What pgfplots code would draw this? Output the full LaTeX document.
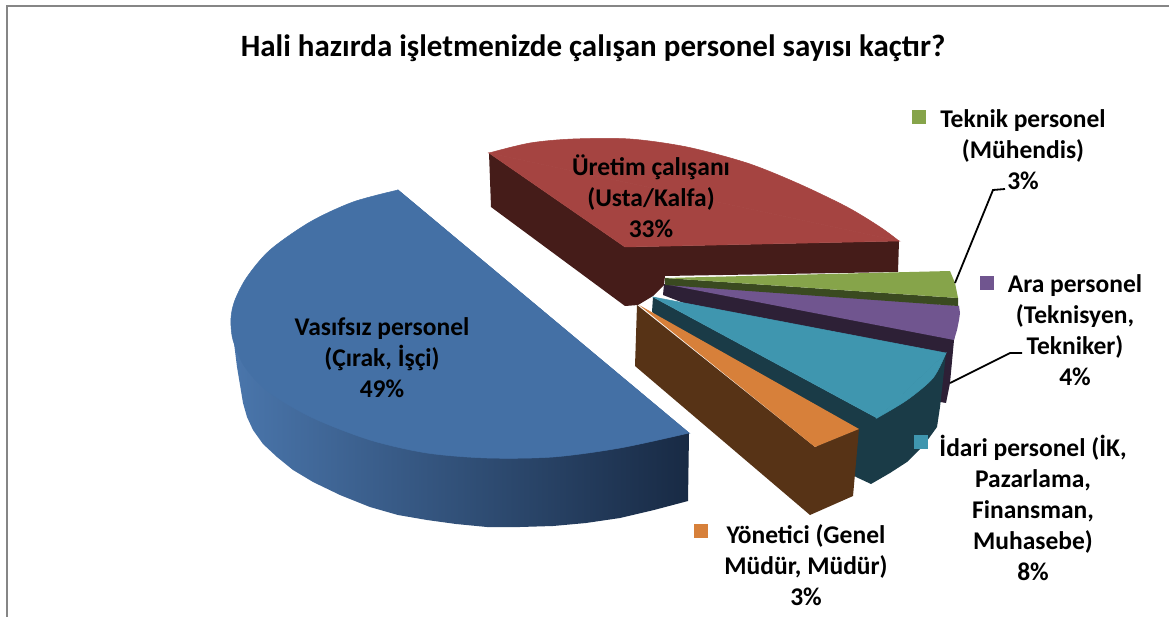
\documentclass[border=0pt]{standalone}
\usepackage{pgfplots}
\pgfplotsset{compat=1.18}
\usepackage{fontspec}
\setmainfont{Carlito}
\definecolor{cblue}{HTML}{4470A5}
\definecolor{cblueL}{HTML}{4A76AC}
\definecolor{cblueD}{HTML}{182A44}
\definecolor{cred}{HTML}{A54441}
\definecolor{credD}{HTML}{451C19}
\definecolor{cgreen}{HTML}{86A44A}
\definecolor{cgreenD}{HTML}{3A4A20}
\definecolor{cpurple}{HTML}{70558F}
\definecolor{cpurpleD}{HTML}{2D2036}
\definecolor{cteal}{HTML}{3F96AF}
\definecolor{ctealD}{HTML}{1A3B47}
\definecolor{corange}{HTML}{D7803A}
\definecolor{cbrown}{HTML}{573316}
\definecolor{cframe}{HTML}{868686}
\tikzset{lab/.style={font=\fontsize{25.5}{31}\selectfont\bfseries, align=center, text=black, inner sep=0pt}}
\begin{document}
\begin{tikzpicture}
\begin{axis}[
  scale only axis, width=1169pt, height=617pt,
  xmin=0, xmax=1169, ymin=0, ymax=617, y dir=reverse,
  hide axis, clip=true,
]
% page background fixes the picture's bounds
\addplot[fill=white, draw=white, no markers] coordinates {(0,0) (1169,0) (1169,617) (0,617)} --cycle;
% frame
\addplot[cframe, line width=2pt, no markers] coordinates {(7,617) (7,6) (1169,6)};
% blue side
\addplot[draw=none, left color=cblueL, right color=cblueD, no markers] coordinates {
 (231,318) (233,335) (237,367) (240,385) (243,403) (247,417) (253,430) (263,444) (277,457) (293,470) (313,482) (340,495) (370,507) (398,515) (427,520) (456,524) (487,527) (520,527) (553,526) (586,523) (620,518) (654,510) (688,501)
 (689,433) (480,400)} --cycle;
% blue top
\addplot[fill=cblue, draw=cblue, line width=0.5pt, no markers, smooth] coordinates {
 (398,190) (353,202) (310,222) (270,250) (247,277) (235,300) (231,318) (233,340) (245,367) (270,393) (313,418) (370,440) (427,453) (487,458) (553,457) (620,448) (689,433)} --cycle;
\addplot[fill=cblue, draw=cblue, line width=0.5pt, no markers] coordinates {(398,190) (689,433) (420,320)} --cycle;
% red
\addplot[fill=credD, draw=none, no markers] coordinates {
 (489,153) (491,207) (625,306) (638,305) (653,296) (664,285) (665,276) (898,272) (899,241) (625,247)} --cycle;
\addplot[fill=cred, draw=cred, line width=0.5pt, no markers, smooth] coordinates {
 (489,153) (530,143) (573,139) (630,139) (687,147) (747,163) (797,183) (847,207) (880,227) (899,241)} --cycle;
\addplot[fill=cred, draw=cred, line width=0.5pt, no markers] coordinates {(625,247) (489,153) (899,241)} --cycle;
% purple
\addplot[fill=cpurpleD, draw=none, no markers] coordinates {
 (664,284) (663,295) (940,402) (946,403) (950,383) (954,340) (959,306)} --cycle;
\addplot[fill=cpurple, draw=none, no markers] coordinates {
 (664,284) (959,306) (960,313) (959,320) (957,330) (954,340)} --cycle;
% green
\addplot[fill=cgreenD, draw=none, no markers] coordinates {
 (665,278) (665,285) (958,306) (958,298)} --cycle;
\addplot[fill=cgreen, draw=none, no markers] coordinates {
 (665,278) (950,271) (955,283) (958,298)} --cycle;
% teal
\addplot[fill=ctealD, draw=none, no markers] coordinates {
 (653,297) (652,312) (856,477) (871,484) (890,473) (907,462) (924,445) (937,427) (940,407) (946,353) (877,418)} --cycle;
\addplot[fill=cteal, draw=cteal, line width=0.5pt, no markers, smooth] coordinates {
 (946,353) (933,378) (907,400) (877,418)} --cycle;
\addplot[fill=cteal, draw=cteal, line width=0.5pt, no markers] coordinates {(653,297) (946,353) (877,418)} --cycle;
% orange
\addplot[fill=cbrown, draw=none, no markers] coordinates {
 (637,305) (635,366) (810,515) (853,496) (859,429) (815,447)} --cycle;
\addplot[fill=corange, draw=none, no markers] coordinates {
 (639,305) (859,429) (815,447)} --cycle;
% leaders
\addplot[black, line width=1.8pt, no markers] coordinates {(955,283) (993,190) (1005,189)};
\addplot[black, line width=1.8pt, no markers] coordinates {(950,383) (1010,353) (1022,353)};
% legend keys
\addplot[only marks, mark=square*, mark size=6.5pt, cgreen] coordinates {(919,117)};
\addplot[only marks, mark=square*, mark size=6.5pt, cpurple] coordinates {(987,283)};
\addplot[only marks, mark=square*, mark size=6.5pt, cteal] coordinates {(921,442)};
\addplot[only marks, mark=square*, mark size=6.5pt, corange] coordinates {(701,531)};
% texts
\node[font=\fontsize{31}{36}\selectfont\bfseries, inner sep=0pt] at (axis cs:593,48) {Hali hazırda işletmenizde çalışan personel sayısı kaçtır?};
\node[lab] at (axis cs:651,196) {Üretim çalışanı\\(Usta/Kalfa)\\33\%};
\node[lab] at (axis cs:382,358) {Vasıfsız personel\\(Çırak, İşçi)\\49\%};
\node[lab] at (axis cs:1023,150) {Teknik personel\\(Mühendis)\\3\%};
\node[lab] at (axis cs:1075,330) {Ara personel\\(Teknisyen,\\Tekniker)\\4\%};
\node[lab] at (axis cs:1033,508) {İdari personel (İK,\\Pazarlama,\\Finansman,\\Muhasebe)\\8\%};
\node[lab] at (axis cs:806,565) {Yönetici (Genel\\Müdür, Müdür)\\3\%};
\end{axis}
\end{tikzpicture}
\end{document}
